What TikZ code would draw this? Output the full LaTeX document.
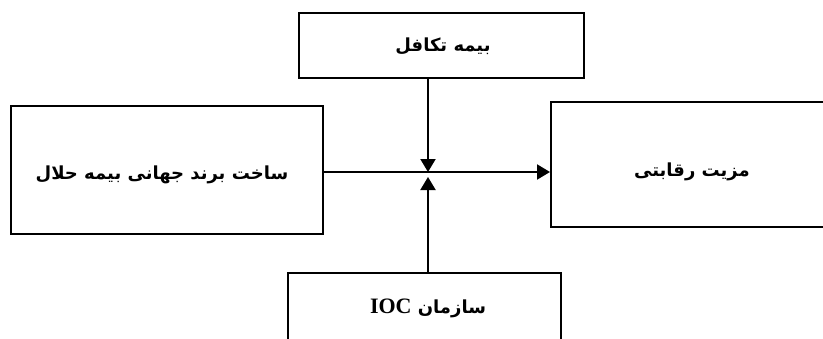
\documentclass[tikz,border=0pt]{standalone}
\usepackage{fontspec}
\usetikzlibrary{arrows.meta}
\TeXXeTstate=1
\newfontfamily\arabicfont[Script=Arabic]{DejaVu Sans}
\newfontfamily\latinbold{Liberation Serif}
\tikzset{
  box/.style={draw=black, line width=2.2pt, fill=white, inner sep=0pt, anchor=north west},
  lbl/.style={inner sep=0pt, anchor=center, font=\arabicfont\bfseries\fontsize{18}{20}\selectfont},
  conn/.style={line width=2pt, -{Triangle[length=13pt,width=15pt]}, shorten >=0pt}
}
\begin{document}
\begin{tikzpicture}[x=1pt,y=-1pt]
\useasboundingbox (0,0) rectangle (823,338);
\clip (0,0) rectangle (823,338);
\fill[white] (0,0) rectangle (823,338);
\node[box, minimum width=285pt, minimum height=65pt] (top) at (298,12) {};
\node[box, minimum width=312pt, minimum height=128pt] (left) at (10,105) {};
\node[box, minimum width=290pt, minimum height=125pt] (right) at (550,101) {};
\node[box, minimum width=273pt, minimum height=72pt] (bottom) at (287,272) {};
\node[lbl] (toptext) at (443,46) {\beginR بیمه تکافل\endR};
\node[lbl] (lefttext) at (162,175) {\beginR ساخت برند جهانی بیمه حلال\endR};
\node[lbl] (righttext) at (692,172) {\beginR مزیت رقابتی\endR};
\node[lbl] (bottomtext) at (428,308) {\beginR سازمان \beginL{\latinbold\bfseries\fontsize{22}{24}\selectfont IOC}\endL\endR};
\coordinate (j) at (428,172);
\coordinate (jt) at (428,172);
\coordinate (jb) at (428,177);
\draw[conn] (top.south -| j) -- (jt);
\draw[conn] (bottom.north -| j) -- (jb);
\draw[conn] (left.east |- j) -- (right.west |- j);
\end{tikzpicture}
\end{document}
